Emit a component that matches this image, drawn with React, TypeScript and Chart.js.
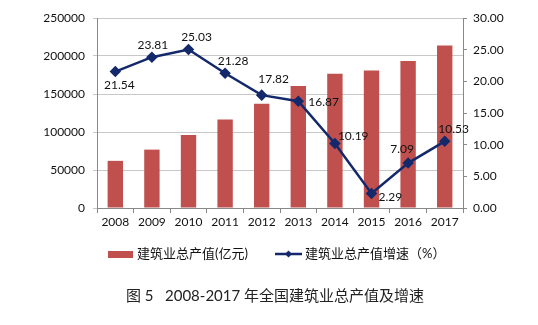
import React, { useEffect, useRef } from "react";
import { Chart, registerables } from "chart.js";

Chart.register(...registerables);

const years = ["2008", "2009", "2010", "2011", "2012", "2013", "2014", "2015", "2016", "2017"];
const outputValues = [62037, 76808, 96031, 116463, 137218, 160366, 176713, 180757, 193567, 213954];
const growthRates = [21.54, 23.81, 25.03, 21.28, 17.82, 16.87, 10.19, 2.29, 7.09, 10.53];
const outputLabel = "建筑业总产值(亿元)";
const growthLabel = "建筑业总产值增速（%）";
const titleText = "图 5   2008-2017 年全国建筑业总产值及增速";

const FONT = "Lato, 'Noto Sans CJK SC', sans-serif";
const BAR_COLOR = "#C0504D";
const LINE_COLOR = "#13296B";

// label placement per point: [dx, dy, textAlign]
const labelPlacement: [number, number, CanvasTextAlign][] = [
  [4, 14, "center"],
  [1, -12, "center"],
  [8, -12, "center"],
  [8, -12, "center"],
  [12, -16, "center"],
  [10, 1, "left"],
  [3, -7, "left"],
  [7, 4, "left"],
  [-6, -14, "center"],
  [9, -12, "center"],
];

const overlayPlugin = {
  id: "overlay",
  afterDatasetsDraw(chart: any) {
    const ctx = chart.ctx;
    const meta = chart.getDatasetMeta(1);
    ctx.save();
    ctx.font = `12px ${FONT}`;
    ctx.fillStyle = "#111";
    ctx.textBaseline = "middle";
    meta.data.forEach((pt: any, i: number) => {
      const [dx, dy, align] = labelPlacement[i];
      ctx.textAlign = align;
      ctx.fillText(growthRates[i].toFixed(2), pt.x + dx, pt.y + dy);
    });
    ctx.restore();
  },
  afterDraw(chart: any) {
    const ctx = chart.ctx;
    ctx.save();
    // legend
    ctx.fillStyle = BAR_COLOR;
    ctx.fillRect(108, 251, 25, 7);
    ctx.font = `13px ${FONT}`;
    ctx.fillStyle = "#111";
    ctx.textBaseline = "middle";
    ctx.textAlign = "left";
    ctx.fillText(outputLabel, 137, 254);
    ctx.strokeStyle = LINE_COLOR;
    ctx.lineWidth = 2.5;
    ctx.beginPath();
    ctx.moveTo(275, 254);
    ctx.lineTo(302, 254);
    ctx.stroke();
    ctx.fillStyle = LINE_COLOR;
    ctx.beginPath();
    ctx.moveTo(288.5, 250.5);
    ctx.lineTo(292, 254);
    ctx.lineTo(288.5, 257.5);
    ctx.lineTo(285, 254);
    ctx.closePath();
    ctx.fill();
    ctx.fillStyle = "#111";
    ctx.fillText(growthLabel, 305, 254);
    // title
    ctx.font = `15px ${FONT}`;
    ctx.textAlign = "center";
    ctx.fillStyle = "#222";
    ctx.fillText(titleText, 275, 296);
    ctx.restore();
  },
};

export default function App() {
  const ref = useRef<HTMLCanvasElement>(null);
  useEffect(() => {
    document.body.style.margin = "0";
    const chart = new Chart(ref.current!, {
      type: "bar",
      data: {
        labels: years,
        datasets: [
          {
            type: "bar",
            label: outputLabel,
            data: outputValues,
            backgroundColor: BAR_COLOR,
            yAxisID: "y",
            barPercentage: 0.42,
            categoryPercentage: 1,
            order: 2,
          },
          {
            type: "line",
            label: growthLabel,
            data: growthRates,
            borderColor: LINE_COLOR,
            backgroundColor: LINE_COLOR,
            borderWidth: 2.5,
            pointStyle: "rectRot",
            pointRadius: 4,
            pointHoverRadius: 4,
            yAxisID: "y1",
            tension: 0,
            order: 1,
          },
        ],
      },
      options: {
        responsive: false,
        animation: false,
        layout: { padding: { top: 18, bottom: 87, left: 0, right: 0 } },
        plugins: { legend: { display: false }, tooltip: { enabled: false } },
        scales: {
          x: {
            grid: { display: true, drawOnChartArea: false, drawTicks: true, tickLength: 5, color: "#888", offset: true },
            border: { display: true, color: "#888" },
            ticks: { color: "#111", font: { family: FONT, size: 12 }, padding: 2, maxRotation: 0 },
            afterFit: (s: any) => { s.height = 30; },
          },
          y: {
            position: "left",
            min: 0,
            max: 250000,
            ticks: { stepSize: 50000, color: "#111", font: { family: FONT, size: 12 }, padding: 8, callback: (v: any) => String(v) },
            grid: { color: "#C8C8C8", tickLength: 4 },
            border: { display: true, color: "#888" },
            afterFit: (s: any) => { s.width = 97; },
          },
          y1: {
            position: "right",
            min: 0,
            max: 30,
            ticks: { stepSize: 5, color: "#111", font: { family: FONT, size: 12 }, padding: 6, callback: (v: any) => Number(v).toFixed(2) },
            grid: { drawOnChartArea: false, tickLength: 4, color: "#888" },
            border: { display: true, color: "#888" },
            afterFit: (s: any) => { s.width = 75; },
          },
        },
      },
      plugins: [overlayPlugin],
    });
    return () => chart.destroy();
  }, []);
  return <canvas ref={ref} width={538} height={325} style={{ display: "block" }} />;
}
